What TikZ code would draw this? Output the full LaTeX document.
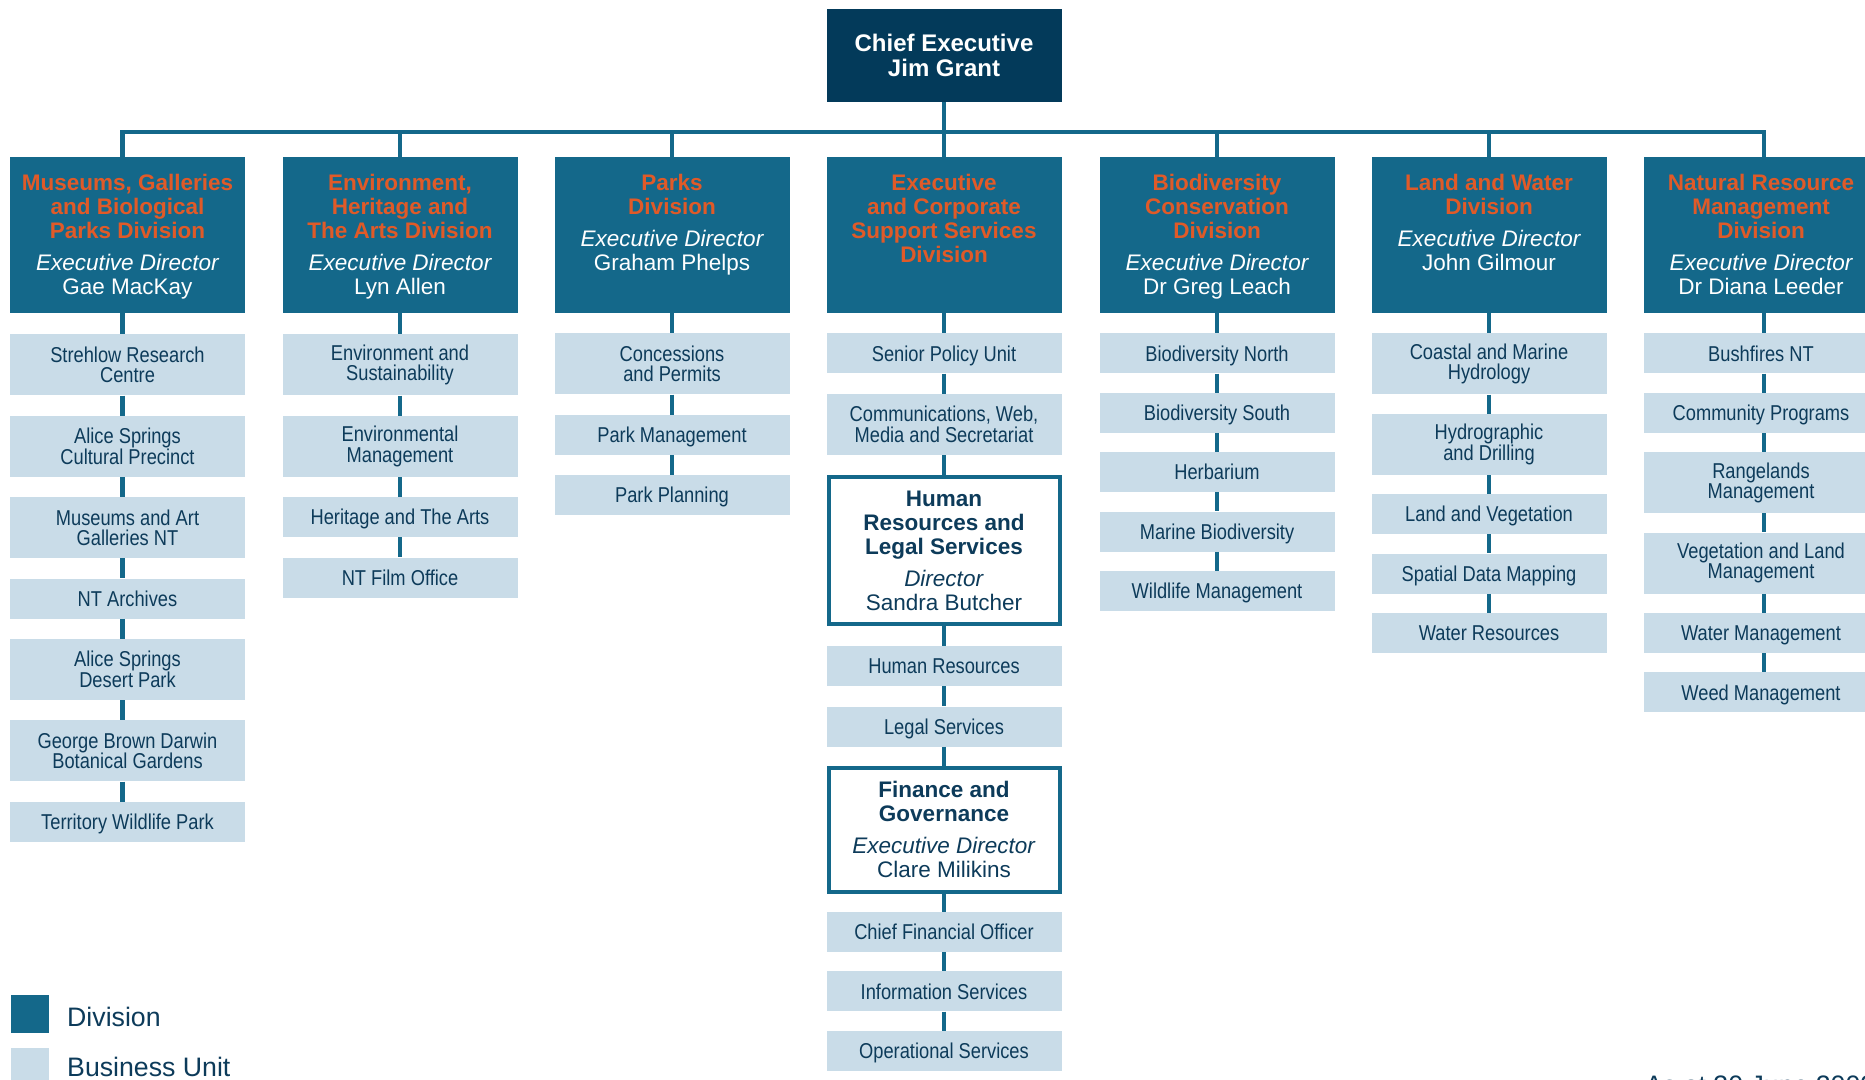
\documentclass[tikz,border=0pt]{standalone}
\usepackage{fontspec}
\setmainfont{Liberation Sans}
\newfontfamily\narrowfont[FakeStretch=0.85]{Liberation Sans}
\usepackage{xcolor}
\usepackage{tikz}
\usetikzlibrary{positioning}
\definecolor{chiefnavy}{HTML}{033A5A}
\definecolor{divblue}{HTML}{14688A}
\definecolor{unitblue}{HTML}{C9DCE8}
\definecolor{divorange}{HTML}{E05A28}
\definecolor{textnavy}{HTML}{0D3B5A}
\tikzset{
    chief/.style={rectangle, fill=chiefnavy, text=white, font=\fontsize{24}{25.5}\selectfont\bfseries, align=center, minimum width=235pt, minimum height=93pt, inner sep=0pt},
    division/.style={rectangle, fill=divblue, text=white, font=\fontsize{22.5}{24}\selectfont, minimum width=235pt, minimum height=156pt, inner sep=0pt},
    unit/.style={rectangle, fill=unitblue, text=textnavy, font=\narrowfont\fontsize{21.5}{20.5}\selectfont, align=center, minimum width=235pt, minimum height=40pt, inner sep=0pt, text depth=0pt},
    twoline/.style={minimum height=61pt, text depth={}},
    subdiv/.style={rectangle, draw=divblue, line width=4pt, fill=white, text=textnavy, font=\fontsize{22.5}{24}\selectfont, align=center, minimum width=231pt, inner sep=0pt},
    link/.style={draw=divblue, line width=4.4pt},
    legend/.style={font=\fontsize{26.7}{30}\selectfont, text=textnavy, anchor=west, inner sep=0pt}
}
\newcommand{\divhead}[1]{\strut{\bfseries\color{divorange}#1}}
\newcommand{\divtop}[1]{\parbox[c][122pt][t]{232pt}{\centering #1}}
\newcommand{\divtxt}[2]{\divtop{\divhead{#1}\par\vspace{8pt}{\itshape Executive Director}\\#2}}

\begin{document}
\begin{tikzpicture}[x=1pt, y=-1pt]
    \useasboundingbox[fill=white] (0,0) rectangle (1865,1079);

    % top of the tree
    \node[chief] (chief) at (944,55.5) {Chief Executive\\Jim Grant};
    \coordinate (bar) at (944,132);

    % divisions
    \node[division] (d1) at (127.5,235) {\divtxt{Museums, Galleries\\and Biological\\Parks Division}{Gae MacKay}};
    \node[division] (d2) at (400,235) {\divtxt{Environment,\\Heritage and\\The Arts Division}{Lyn Allen}};
    \node[division] (d3) at (672,235) {\divtxt{Parks\\Division}{Graham Phelps}};
    \node[division] (d4) at (944,235) {\divtop{\divhead{Executive\\and Corporate\\Support Services\\Division}}};
    \node[division] (d5) at (1217,235) {\divtxt{Biodiversity\\Conservation\\Division}{Dr Greg Leach}};
    \node[division] (d6) at (1489,235) {\divtxt{Land and Water\\Division}{John Gilmour}};
    \node[division] (d7) at (1761,235) {\divtxt{Natural Resource\\Management\\Division}{Dr Diana Leeder}};

    % museums, galleries and biological parks
    \node[unit, twoline, below=21pt of d1] (mus1) {Strehlow Research\\Centre};
    \node[unit, twoline, below=20pt of mus1] (mus2) {Alice Springs\\Cultural Precinct};
    \node[unit, twoline, below=20pt of mus2] (mus3) {Museums and Art\\Galleries NT};
    \node[unit, below=20pt of mus3] (mus4) {NT Archives};
    \node[unit, twoline, below=20pt of mus4] (mus5) {Alice Springs\\Desert Park};
    \node[unit, twoline, below=20pt of mus5] (mus6) {George Brown Darwin\\Botanical Gardens};
    \node[unit, below=20pt of mus6] (mus7) {Territory Wildlife Park};

    % environment, heritage and the arts
    \node[unit, twoline, below=21pt of d2] (env1) {Environment and\\Sustainability};
    \node[unit, twoline, below=20pt of env1] (env2) {Environmental\\Management};
    \node[unit, below=20pt of env2] (env3) {Heritage and The Arts};
    \node[unit, below=20pt of env3] (env4) {NT Film Office};

    % parks
    \node[unit, twoline, below=20pt of d3] (park1) {Concessions\\and Permits};
    \node[unit, below=20pt of park1] (park2) {Park Management};
    \node[unit, below=20pt of park2] (park3) {Park Planning};

    % executive and corporate support
    \node[unit, below=20pt of d4] (exe1) {Senior Policy Unit};
    \node[unit, twoline, below=20pt of exe1] (exe2) {Communications, Web,\\Media and Secretariat};
    \node[subdiv, minimum height=147pt, below=20pt of exe2] (hrls) {\textbf{Human}\\\textbf{Resources and}\\\textbf{Legal Services}\\[8pt]\textit{Director}\\Sandra Butcher};
    \node[unit, below=20pt of hrls] (hr1) {Human Resources};
    \node[unit, below=20pt of hr1] (hr2) {Legal Services};
    \node[subdiv, minimum height=124pt, below=19pt of hr2] (fin) {\textbf{Finance and}\\\textbf{Governance}\\[8pt]\textit{Executive Director}\\Clare Milikins};
    \node[unit, below=18pt of fin] (fin1) {Chief Financial Officer};
    \node[unit, below=19pt of fin1] (fin2) {Information Services};
    \node[unit, below=19pt of fin2] (fin3) {Operational Services};

    % biodiversity conservation
    \node[unit, below=20pt of d5] (bio1) {Biodiversity North};
    \node[unit, below=19pt of bio1] (bio2) {Biodiversity South};
    \node[unit, below=19pt of bio2] (bio3) {Herbarium};
    \node[unit, below=19pt of bio3] (bio4) {Marine Biodiversity};
    \node[unit, below=19pt of bio4] (bio5) {Wildlife Management};

    % land and water
    \node[unit, twoline, below=20pt of d6] (lw1) {Coastal and Marine\\Hydrology};
    \node[unit, twoline, below=19pt of lw1] (lw2) {Hydrographic\\and Drilling};
    \node[unit, below=19pt of lw2] (lw3) {Land and Vegetation};
    \node[unit, below=19pt of lw3] (lw4) {Spatial Data Mapping};
    \node[unit, below=19pt of lw4] (lw5) {Water Resources};

    % natural resource management
    \node[unit, below=20pt of d7] (nrm1) {Bushfires NT};
    \node[unit, below=19pt of nrm1] (nrm2) {Community Programs};
    \node[unit, twoline, below=19pt of nrm2] (nrm3) {Rangelands\\Management};
    \node[unit, twoline, below=19pt of nrm3] (nrm4) {Vegetation and Land\\Management};
    \node[unit, below=19pt of nrm4] (nrm5) {Water Management};
    \node[unit, below=19pt of nrm5] (nrm6) {Weed Management};

    % chief to divisions
    \draw[link] (chief.south) -- (chief.south |- bar) -| ([xshift=-5pt]d1.north);
    \draw[link] (chief.south) -- (chief.south |- bar) -| (d2.north);
    \draw[link] (chief.south) -- (chief.south |- bar) -| (d3.north);
    \draw[link] (chief.south) -- (d4.north);
    \draw[link] (chief.south) -- (chief.south |- bar) -| (d5.north);
    \draw[link] (chief.south) -- (chief.south |- bar) -| (d6.north);
    \draw[link] (chief.south) -- (chief.south |- bar) -| ([xshift=3pt]d7.north);

    % divisions to units
    \draw[link, transform canvas={xshift=-5pt}] (d1) -- (mus1) (mus1) -- (mus2) (mus2) -- (mus3) (mus3) -- (mus4) (mus4) -- (mus5) (mus5) -- (mus6) (mus6) -- (mus7);
    \draw[link] (d2) -- (env1) (env1) -- (env2) (env2) -- (env3) (env3) -- (env4);
    \draw[link] (d3) -- (park1) (park1) -- (park2) (park2) -- (park3);
    \draw[link] (d4) -- (exe1) (exe1) -- (exe2) (exe2) -- (hrls) (hrls) -- (hr1) (hr1) -- (hr2) (hr2) -- (fin) (fin) -- (fin1) (fin1) -- (fin2) (fin2) -- (fin3);
    \draw[link] (d5) -- (bio1) (bio1) -- (bio2) (bio2) -- (bio3) (bio3) -- (bio4) (bio4) -- (bio5);
    \draw[link] (d6) -- (lw1) (lw1) -- (lw2) (lw2) -- (lw3) (lw3) -- (lw4) (lw4) -- (lw5);
    \draw[link, transform canvas={xshift=3pt}] (d7) -- (nrm1) (nrm1) -- (nrm2) (nrm2) -- (nrm3) (nrm3) -- (nrm4) (nrm4) -- (nrm5) (nrm5) -- (nrm6);

    % legend
    \node[rectangle, fill=divblue, minimum size=38pt, inner sep=0pt] (keydiv) at (30,1014) {};
    \node[legend] (keydivtext) at (67,1016.5) {Division};
    \node[rectangle, fill=unitblue, minimum size=38pt, inner sep=0pt] (keyunit) at (30,1067) {};
    \node[legend] (keyunittext) at (67,1066.5) {Business Unit};
    \node[legend, anchor=base west] (asat) at (1645,1094) {As at 30 June 2009};
\end{tikzpicture}
\end{document}
